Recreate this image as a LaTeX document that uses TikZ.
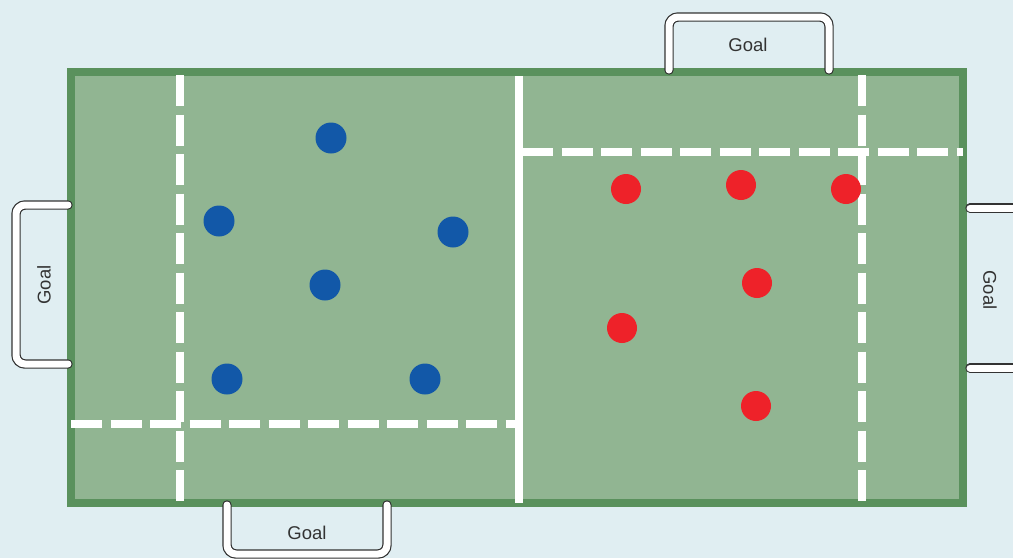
\documentclass[tikz,border=0pt]{standalone}
\usepackage{fontspec}
\setmainfont{Liberation Sans}
\definecolor{bgc}{HTML}{E0EEF2}
\definecolor{fieldc}{HTML}{91B592}
\definecolor{borderc}{HTML}{5A915D}
\definecolor{bluec}{HTML}{1258A8}
\definecolor{redc}{HTML}{EE2229}
\definecolor{txtc}{HTML}{333333}
\begin{document}
\begin{tikzpicture}[x=1pt,y=-1pt,
  solidline/.style={white,line width=8pt},
  dashline/.style={white,line width=8pt,dash pattern=on 31pt off 8.5pt},
  blueplayer/.style={circle,fill=bluec,minimum size=31pt,inner sep=0pt},
  redplayer/.style={circle,fill=redc,minimum size=30pt,inner sep=0pt},
  goalframe/.style={draw=txtc,line width=1.2pt,double=white,double distance=7pt,rounded corners=9pt,line cap=round},
  goallabel/.style={text=txtc,font=\fontsize{18.5}{20}\selectfont,inner sep=0pt}]
\useasboundingbox (0,0) rectangle (1013,558);
\clip (0,0) rectangle (1013,558);
\fill[bgc] (0,0) rectangle (1013,558);
% field
\draw[fill=fieldc,draw=borderc,line width=8pt] (71,72) rectangle (963,503);
% lines
\coordinate (lvt) at (180,75);
\coordinate (lvb) at (180,503);
\coordinate (lhl) at (71,424);
\coordinate (lhr) at (518,424);
\coordinate (cvt) at (518.5,76);
\coordinate (cvb) at (518.5,503);
\coordinate (rhl) at (522,152);
\coordinate (rhr) at (963,152);
\coordinate (rvt) at (862,75);
\coordinate (rvb) at (862,503);
\draw[dashline] (lvt) -- (lvb);
\draw[dashline] (lhl) -- (lhr);
\draw[dashline] (rhl) -- (rhr);
\draw[dashline] (rvt) -- (rvb);
\draw[solidline] (cvt) -- (cvb);
% players
\node[blueplayer] (b1) at (331,138) {};
\node[blueplayer] (b2) at (219,221) {};
\node[blueplayer] (b3) at (453,232) {};
\node[blueplayer] (b4) at (325,285) {};
\node[blueplayer] (b5) at (227,379) {};
\node[blueplayer] (b6) at (425,379) {};
\node[redplayer] (r1) at (626,189) {};
\node[redplayer] (r2) at (741,185) {};
\node[redplayer] (r3) at (846,189) {};
\node[redplayer] (r4) at (757,283) {};
\node[redplayer] (r5) at (622,328) {};
\node[redplayer] (r6) at (756,406) {};
% goals
\draw[goalframe] (669,70) -- (669,17) -- (829,17) -- (829,70);
\node[goallabel] (gt) at (748,45) {Goal};
\draw[goalframe] (68,205) -- (16,205) -- (16,364) -- (68,364);
\node[goallabel,rotate=90] (gl) at (44,285) {Goal};
\draw[goalframe] (227,505) -- (227,554) -- (387,554) -- (387,505);
\node[goallabel] (gb) at (307,533) {Goal};
\draw[goalframe] (970,208) -- (1030,208);
\draw[goalframe] (970,368) -- (1030,368);
\node[goallabel,rotate=-90] (gr) at (990,290) {Goal};
\end{tikzpicture}
\end{document}
